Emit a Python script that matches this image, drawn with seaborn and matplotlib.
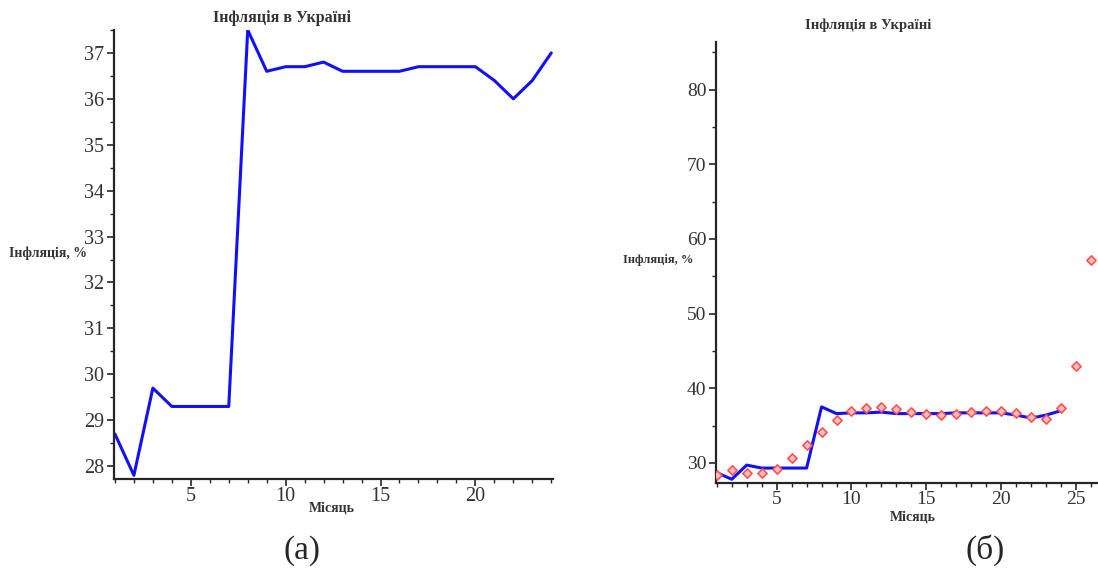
"""
Inflation in Ukraine: monthly series (a) and series with forecast points (b).
"""

import matplotlib
matplotlib.use("Agg")
import matplotlib.pyplot as plt
from matplotlib.ticker import MultipleLocator
import seaborn as sns
import pandas as pd

# -----------------------------
# Data
# -----------------------------
months = list(range(1, 25))
inflation = [28.7, 27.8, 29.7, 29.3, 29.3, 29.3, 29.3, 37.5, 36.6, 36.7,
             36.7, 36.8, 36.6, 36.6, 36.6, 36.6, 36.7, 36.7, 36.7, 36.7,
             36.4, 36.0, 36.4, 37.0]

model_months = list(range(1, 27))
model_values = [28.4, 29.1, 28.7, 28.6, 29.2, 30.6, 32.4, 34.2, 35.8, 36.9,
                37.4, 37.5, 37.2, 36.8, 36.5, 36.4, 36.5, 36.8, 37.0, 37.0,
                36.7, 36.2, 35.9, 37.3, 43.0, 57.2]

title = "Інфляція в Україні"
ylabel = "Інфляція, %"
xlabel = "Місяць"

df = pd.DataFrame({"month": months, "inflation": inflation})
df_model = pd.DataFrame({"month": model_months, "value": model_values})

sns.set_style("ticks")
plt.rcParams["font.family"] = ["Liberation Serif", "DejaVu Serif"]


def style_axis(ax, labelsize=14.5):
    sns.despine(ax=ax)
    for side in ("left", "bottom"):
        ax.spines[side].set_linewidth(1.6)
    ax.xaxis.set_major_locator(MultipleLocator(5))
    ax.xaxis.set_minor_locator(MultipleLocator(1))
    ax.tick_params(which="major", length=5, width=1.2, labelsize=labelsize, pad=2,
                   labelcolor="#333333")
    ax.tick_params(axis="x", pad=1)
    ax.tick_params(which="minor", length=3, width=1.0)
    ax.set_xlabel("")
    ax.set_ylabel("")


fig = plt.figure(figsize=(10.98, 5.72), dpi=100)

# -----------------------------
# (a) monthly inflation
# -----------------------------
ax1 = fig.add_axes([0.1038, 0.1626, 0.4, 0.785])
sns.lineplot(data=df, x="month", y="inflation", ax=ax1, color="#1010ff", linewidth=2.2)
ax1.set_xlim(0.95, 24.1)
ax1.set_ylim(27.72, 37.5)
ax1.yaxis.set_major_locator(MultipleLocator(1))
ax1.yaxis.set_minor_locator(MultipleLocator(0.5))
style_axis(ax1)

fig.text(0.257, 0.969, title, ha="center", va="center", fontsize=11.5, weight="bold", color="#333333")
fig.text(0.044, 0.557, ylabel, ha="center", va="center", fontsize=10, weight="bold", color="#333333")
fig.text(0.302, 0.112, xlabel, ha="center", va="center", fontsize=10, weight="bold", color="#333333")
fig.text(0.275, 0.038, "(а)", ha="center", va="center", fontsize=24)

# -----------------------------
# (b) series with model points
# -----------------------------
ax2 = fig.add_axes([0.6521, 0.1556, 0.347, 0.771])
sns.lineplot(data=df, x="month", y="inflation", ax=ax2, color="#1010ff", linewidth=2.2)
sns.scatterplot(data=df_model, x="month", y="value", ax=ax2, marker="D", s=22,
                color="#ffc0c0", edgecolor="#ff5050", linewidth=1.2, zorder=3)
ax2.set_xlim(0.95, 26.4)
ax2.set_ylim(27.3, 86.4)
ax2.yaxis.set_major_locator(MultipleLocator(10))
ax2.yaxis.set_minor_locator(MultipleLocator(5))
style_axis(ax2, labelsize=14)

fig.text(0.791, 0.956, title, ha="center", va="center", fontsize=10.5, weight="bold", color="#333333")
fig.text(0.599, 0.545, ylabel, ha="center", va="center", fontsize=9, weight="bold", color="#333333")
fig.text(0.831, 0.097, xlabel, ha="center", va="center", fontsize=10, weight="bold", color="#333333")
fig.text(0.897, 0.038, "(б)", ha="center", va="center", fontsize=24)

fig.savefig("out.png", dpi=100, facecolor="white")
